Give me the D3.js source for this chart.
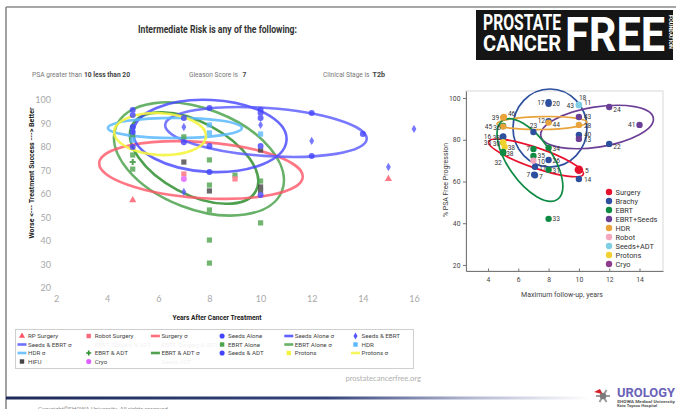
<!DOCTYPE html>
<html><head><meta charset="utf-8">
<script src="https://cdn.jsdelivr.net/npm/d3@7"></script>
<style>body{margin:0;background:#fff} svg{display:block}</style>
</head><body>
<svg id="c" width="676" height="409"></svg>
<script>
// ---------------- DATA (main chart) ----------------
const mainXTicks = [2,4,6,8,10,12,14,16];
const mainYTicks = [20,30,40,50,60,70,80,90,100];
const rpSurgery = [[5,57.4],[15,66.4]];
const robotSurgery = [[7,68.5],[9,66.4]];
const seedsAlone = [[5,95.7],[5,93.6],[5,86.4],[5,80],[7,92.3],[7,82],[8,96.6],[8,80.4],[10,95.7],[10,92.3],[10,80.4],[12,94.5],[12,76.2],[14,85.5],[10,59.6]];
const seedsEbrt = [[7,88.5],[10,89.4],[12,82.6],[15,71.5],[16,87.7],[7,60.9]];
const seedsAdt = [[5,88.5],[8,69.4],[10,94.5]];
const hdr = [[5,83],[8,89.4],[8,86],[10,85.5],[5,88]];
const ebrtAlone = [[5,85],[5,70.6],[7,84.3],[8,74.5],[8,63.8],[8,53.2],[8,40.4],[8,30.6],[9,68],[10,65.5],[10,47.7],[5,76.6]];
const ebrtAdt = [[5,73.6],[8,69.4]];
const hifu = [[7,73.6],[8,61.3],[10,78.7],[10,63],[10,61.3]];
const cryo = [[7,66.4]];
const protons = [];
// sigma ellipses: [centerX, centerY, sigmaX (years), sigmaY (%), tilt deg]
const surgerySigma = [7.67,70.2,3.99,11.9,4];
const hdrSigma = [6.65,88.1,2.62,4.3,0];
const protonsSigma = [6.07,85.5,1.8,8.9,3];
const seedsAloneSigma = [8.02,84.7,3.0,15.3,3];
const seedsEbrtSigma = [10.21,86.4,3.95,10.2,4];
const ebrtAloneSigma = [7.59,74.9,3.48,21.3,21];
const ebrtAdtSigma = [7.4,75.3,2.74,15.3,28];
const legendNames = ["RP Surgery","Robot Surgery","Surgery σ","Seeds Alone","Seeds Alone σ","Seeds & EBRT",
  "Seeds & EBRT σ","EBRT, Surgery & ADT","EBRT, Surgery & ADT σ","EBRT Alone","EBRT Alone σ","HDR",
  "HDR σ","EBRT & ADT","EBRT & ADT σ","Seeds & ADT","Protons","Protons σ",
  "HIFU","Cryo","Seeds ADT"];

// ---------------- DATA (inset chart) ----------------
const insetXTicks = [4,6,8,10,12,14];
const insetYTicks = [20,40,60,80,100];
const insetGroups = ["Surgery","Brachy","EBRT","EBRT+Seeds","HDR","Robot","Seeds+ADT","Protons","Cryo"];
// [label, group, years, % PSA free]
const insetPoints = [
 ["17","Brachy",8,98.0],["20","Brachy",8,97.2],
 ["18","Seeds+ADT",10,96.8],["11","Seeds+ADT",10,96.6],["43","Seeds+ADT",10,96.6],
 ["24","EBRT+Seeds",12,95.7],
 ["39","HDR",5,90.6],["46","HDR",5.05,90.9],
 ["43","EBRT+Seeds",10,90.9],
 ["12","Brachy",8,88.9],["44","HDR",8,88.2],
 ["28","HDR",10,87.1],
 ["45","EBRT",5,86.6],["36","HDR",5,86.3],
 ["23","Brachy",7,83.7],
 ["41","EBRT+Seeds",14,87.1],
 ["16","Brachy",5,81.6],["38","Brachy",5,81.3],
 ["40","Brachy",10,82.3],["13","EBRT+Seeds",10,80.4],
 ["35","Protons",5,78.8],["30","Protons",5,78.5],["38","Protons",5.1,76.6],
 ["22","Brachy",12,78.0],
 ["34","EBRT",8,76.1],["7","EBRT",7,75.6],
 ["38","EBRT",5,74.2],["32","EBRT",5,73.6],
 ["35","EBRT",7,72.2],["10","Robot",7,69.9],["26","Brachy",8,70.3],
 ["17","Brachy",7.1,67.0],["31","EBRT",8,65.6],["5","Surgery",10,65.6],
 ["7","Brachy",7.05,63.3],["7","Brachy",7.1,63.0],["14","Brachy",10,61.2],
 ["33","EBRT",8,42.1]
];
// [group, centerX, centerY, sigmaX (years), sigmaY (%), tilt deg]
const insetEllipses = [
 ["Brachy",8.09,85.6,2.44,18.7,0],
 ["EBRT+Seeds",11.2,86.1,3.76,9.6,-9],
 ["HDR",7.56,88.0,2.97,3.1,-1],
 ["Surgery",7.17,71.3,3.3,4.8,19],
 ["EBRT",6.77,70.3,3.17,10.5,55]
];

// ---------------- LAYOUT / STYLE ----------------
const svg = d3.select("#c");
const F = "Roboto, 'Open Sans', sans-serif";
const A = "Lato, 'Open Sans', sans-serif";

// slide frame
svg.append("line").attr("x1",6).attr("y1",7).attr("x2",676).attr("y2",7).attr("stroke","#8a8a8a").attr("stroke-width",1.6);
svg.append("line").attr("x1",6).attr("y1",7).attr("x2",6).attr("y2",409).attr("stroke","#8a8a8a").attr("stroke-width",1.6);

// titles
svg.append("text").attr("x",138).attr("y",32.5).attr("font-family",F).attr("font-weight","bold")
  .attr("font-size",10).attr("fill","#333").attr("textLength",159).attr("lengthAdjust","spacingAndGlyphs")
  .text("Intermediate Risk is any of the following:");
function sub(x1, len1, x2, len2, a, b){
  svg.append("text").attr("x",x1).attr("y",76.5).attr("font-family",F).attr("font-size",7.6)
    .attr("fill","#777").attr("textLength",len1).attr("lengthAdjust","spacingAndGlyphs").text(a);
  svg.append("text").attr("x",x2).attr("y",76.5).attr("font-family",F).attr("font-size",7.6)
    .attr("font-weight","bold").attr("fill","#444").attr("textLength",len2).attr("lengthAdjust","spacingAndGlyphs").text(b);
}
sub(32,50,84,46,"PSA greater than","10 less than 20");
sub(189,49,242.5,3.8,"Gleason Score is","7");
sub(323,46.5,372.5,12.5,"Clinical Stage is","T2b");

// logo
const lg = svg.append("g");
lg.append("rect").attr("x",476).attr("y",10).attr("width",197).attr("height",50).attr("fill","#151515");
lg.append("text").attr("x",483).attr("y",29.5).attr("font-family",F).attr("font-weight","bold").attr("font-size",22.5)
  .attr("fill","#fff").attr("textLength",78).attr("lengthAdjust","spacingAndGlyphs").text("PROSTATE");
lg.append("text").attr("x",483).attr("y",50.5).attr("font-family",F).attr("font-weight","bold").attr("font-size",22.5)
  .attr("fill","#fff").attr("textLength",78).attr("lengthAdjust","spacingAndGlyphs").text("CANCER");
lg.append("text").attr("x",565).attr("y",50.5).attr("font-family",F).attr("font-weight","bold").attr("font-size",48)
  .attr("fill","#fff").attr("textLength",100).attr("lengthAdjust","spacingAndGlyphs").text("FREE");
lg.append("text").attr("transform","translate(668.5,15) rotate(90)").attr("font-family",F).attr("font-weight","bold")
  .attr("font-size",4.5).attr("fill","#fff").attr("textLength",34).attr("lengthAdjust","spacingAndGlyphs").text("FOUNDATION");

// ---------------- MAIN CHART ----------------
const x = d3.scaleLinear().domain([2,16]).range([56,414]);
const y = d3.scaleLinear().domain([20,100]).range([288,100]);

const gx = svg.append("g").attr("transform","translate(0,293)")
  .call(d3.axisBottom(x).tickValues(mainXTicks).tickSize(0).tickPadding(3));
const gy = svg.append("g").attr("transform","translate(54,0)")
  .call(d3.axisLeft(y).tickValues(mainYTicks).tickSize(0).tickPadding(3));
[gx,gy].forEach(g=>{ g.select(".domain").remove();
  g.selectAll("text").attr("font-family",A).attr("font-size",9).attr("fill","#a8a8a8"); });

svg.append("text").attr("x",217).attr("y",319.5).attr("text-anchor","middle").attr("font-family",F)
  .attr("font-weight","bold").attr("font-size",7).attr("fill","#222").attr("textLength",89)
  .attr("lengthAdjust","spacingAndGlyphs").text("Years After Cancer Treatment");
svg.append("text").attr("transform","translate(34,173) rotate(-90)").attr("text-anchor","middle")
  .attr("font-family",F).attr("font-weight","bold").attr("font-size",6.8).attr("fill","#222")
  .attr("textLength",131).attr("lengthAdjust","spacingAndGlyphs").text("Worse <--- Treatment Success ---> Better");

const C = {red:"#ff5566", redSq:"#ff6b7b", blue:"#4444ff", blue2:"#5757ff", green:"#4ea34e", dgreen:"#2f8f2f",
  lblue:"#5ab8ff", yellow:"#f4f440", hifu:"#454545", cryo:"#e060ff"};

function drawEllipse(g, e, sx, sy, color, w, op){
  const cx = sx(e[0]), cy = sy(e[1]);
  const rx = sx(e[0]+e[2]) - cx, ry = sy(e[1]) - sy(e[1]+e[3]);
  g.append("ellipse").attr("cx",cx).attr("cy",cy).attr("rx",rx).attr("ry",ry)
   .attr("transform",`rotate(${e[4]},${cx},${cy})`)
   .attr("fill","none").attr("stroke",color).attr("stroke-width",w).attr("opacity",op);
}
const eg = svg.append("g");
drawEllipse(eg, ebrtAloneSigma, x, y, C.green, 2.6, 0.85);
drawEllipse(eg, ebrtAdtSigma, x, y, C.dgreen, 2.6, 0.85);
drawEllipse(eg, surgerySigma, x, y, C.red, 2.6, 0.8);
drawEllipse(eg, seedsAloneSigma, x, y, C.blue, 2.6, 0.8);
drawEllipse(eg, seedsEbrtSigma, x, y, C.blue2, 2.6, 0.8);
drawEllipse(eg, hdrSigma, x, y, C.lblue, 2.6, 0.85);
drawEllipse(eg, protonsSigma, x, y, C.yellow, 2.6, 0.9);

const pg = svg.append("g");
function marker(g, shape, px, py, color, s){
  s = s || 1;
  if(shape==="circ") g.append("circle").attr("cx",px).attr("cy",py).attr("r",3*s).attr("fill",color);
  else if(shape==="sq") g.append("rect").attr("x",px-2.6*s).attr("y",py-2.6*s).attr("width",5.2*s).attr("height",5.2*s).attr("fill",color);
  else if(shape==="tri") g.append("path").attr("d",d3.symbol(d3.symbolTriangle, 22*s*s)()).attr("transform",`translate(${px},${py})`).attr("fill",color);
  else if(shape==="diam") g.append("path").attr("d",d3.symbol(d3.symbolDiamond, 20*s*s)()).attr("transform",`translate(${px},${py})`).attr("fill",color);
  else if(shape==="cross") g.append("path").attr("d",d3.symbol(d3.symbolCross, 20*s*s)()).attr("transform",`translate(${px},${py})`).attr("fill",color);
}
function series(data, shape, color){
  data.forEach(d=>marker(pg, shape, x(d[0]), y(d[1]), color));
}
series(ebrtAlone,"sq",C.green);
series(ebrtAdt,"cross",C.dgreen);
series(hdr,"sq",C.lblue);
series(hifu,"sq",C.hifu);
series(seedsAlone,"circ",C.blue);
series(seedsAdt,"circ",C.blue);
series(seedsEbrt,"diam",C.blue2);
series(robotSurgery,"sq",C.redSq);
series(rpSurgery,"tri",C.red);
series(cryo,"circ",C.cryo);
series(protons,"sq",C.yellow);
pg.attr("opacity",0.8);

// legend
svg.append("rect").attr("x",15.5).attr("y",329.5).attr("width",398).attr("height",39)
  .attr("fill","#fff").attr("stroke","#cfcfcf").attr("stroke-width",1);
const legendStyles = [
 ["tri",C.red],["sq",C.redSq],["line",C.red],["circ",C.blue],["line",C.blue],["diam",C.blue2],
 ["line",C.blue2],["hid"],["hid"],["sq",C.green],["line",C.green],["sq",C.lblue],
 ["line",C.lblue],["cross",C.dgreen],["line",C.dgreen],["circ",C.blue],["sq",C.yellow],["line",C.yellow],
 ["sq",C.hifu],["circ",C.cryo],["hid"]
];
const lgG = svg.append("g");
legendNames.forEach((n,i)=>{
  const col = i%6, row = Math.floor(i/6);
  const mx = 22 + col*66.7, my = 336 + row*8.5;
  const st = legendStyles[i];
  if(st[0]==="line") lgG.append("rect").attr("x",mx-4.5).attr("y",my-1.3).attr("width",9).attr("height",2.6).attr("fill",st[1]).attr("opacity",0.85);
  else if(st[0]!=="hid") marker(lgG, st[0], mx, my, st[1], 0.85);
  lgG.append("text").attr("x",mx+6).attr("y",my+2.2).attr("font-family",F).attr("font-size",6.2)
    .attr("fill", st[0]==="hid" ? "#f2f2f2" : "#444").text(n);
});
svg.append("text").attr("x",421).attr("y",380.5).attr("text-anchor","end").attr("font-family",A)
  .attr("font-size",7.6).attr("fill","#b0b0b0").text("prostatecancerfree.org");

// ---------------- INSET CHART ----------------
const xi = d3.scaleLinear().domain([2.55,15.55]).range([466,663]);
const yi = d3.scaleLinear().domain([17.1,103.35]).range([271,91]);
const IC = {"Surgery":"#e8112d","Brachy":"#2d4f9e","EBRT":"#0e8a43","EBRT+Seeds":"#6c3f97","HDR":"#e8a33b",
  "Robot":"#f4a7bf","Seeds+ADT":"#7ecfe4","Protons":"#f2d230","Cryo":"#8d3c8e"};
svg.append("rect").attr("x",466).attr("y",91).attr("width",197).attr("height",180)
  .attr("fill","#fff").attr("stroke","#d8d8d8").attr("stroke-width",1);
const gxi = svg.append("g").attr("transform","translate(0,271)")
  .call(d3.axisBottom(xi).tickValues(insetXTicks).tickSizeInner(-2.5).tickSizeOuter(0).tickPadding(6));
const gyi = svg.append("g").attr("transform","translate(466,0)")
  .call(d3.axisLeft(yi).tickValues(insetYTicks).tickSizeInner(3).tickSizeOuter(0).tickPadding(2.5));
[gxi,gyi].forEach(g=>{
  g.select(".domain").attr("stroke","#777");
  g.selectAll("line").attr("stroke","#777");
  g.selectAll("text").attr("font-family",F).attr("font-size",6.8).attr("fill","#444");
});
svg.append("text").attr("x",562).attr("y",296.5).attr("text-anchor","middle").attr("font-family",F)
  .attr("font-size",7.3).attr("fill","#444").attr("textLength",82).attr("lengthAdjust","spacingAndGlyphs")
  .text("Maximum follow-up, years");
svg.append("text").attr("transform","translate(448,180) rotate(-90)").attr("text-anchor","middle")
  .attr("font-family",F).attr("font-size",6.3).attr("fill","#444").attr("textLength",74)
  .attr("lengthAdjust","spacingAndGlyphs").text("% PSA Free Progression");

const ieg = svg.append("g");
insetEllipses.forEach(e=>drawEllipse(ieg, e.slice(1), xi, yi, IC[e[0]], 1.7, 1));

// label placement for inset points: [dx, dy, anchor]
const insetLabelPos = [
 [-4,2.5,"end"],[4,2.5,"start"],
 [0,-5,"start"],[5,0,"start"],[-5,2.5,"end"],
 [4,5,"start"],
 [-4,2.5,"end"],[4,-1,"start"],
 [5,2.5,"start"],
 [-3.5,2,"end"],[4,4,"start"],
 [5,3,"start"],
 [-11,3,"end"],[-2.5,3,"end"],
 [0,-4,"middle"],
 [-4,2.5,"end"],
 [-12,2.5,"end"],[-3,3,"end"],
 [5,2.5,"start"],[5,3,"start"],
 [-12,2.5,"end"],[-3,3,"end"],[3,3.5,"start"],
 [4,5.5,"start"],
 [4,3,"start"],[-3.5,2.5,"end"],
 [3,4.5,"start"],[-5,12,"middle"],
 [4,2,"start"],[4,3,"start"],[4,3,"start"],
 [4,3.5,"start"],[4,3.5,"start"],[6,3,"start"],
 [-4,2.5,"end"],[4,4,"start"],[5,3,"start"],
 [4,2.5,"start"]
];
const ipg = svg.append("g");
insetPoints.forEach(p=>{
  ipg.append("circle").attr("cx",xi(p[2])).attr("cy",yi(p[3])).attr("r", p[1]==="Surgery"?4.3:3.2).attr("fill",IC[p[1]]);
});
const ilg = svg.append("g");
insetPoints.forEach((p,i)=>{
  const lp = insetLabelPos[i];
  ilg.append("text").attr("x",xi(p[2])+lp[0]).attr("y",yi(p[3])+lp[1]).attr("text-anchor",lp[2])
    .attr("font-family",F).attr("font-size",6.6).attr("fill","#333").text(p[0]);
});
// inset legend
insetGroups.forEach((gname,i)=>{
  const ly = 192 + i*9;
  svg.append("circle").attr("cx",609).attr("cy",ly).attr("r",3.2).attr("fill",IC[gname]);
  svg.append("text").attr("x",615.5).attr("y",ly+2.6).attr("font-family",F).attr("font-size",7.4)
    .attr("fill","#333").text(gname);
});

// ---------------- FOOTER ----------------
const grad = svg.append("defs").append("linearGradient").attr("id","bar").attr("x1","0").attr("x2","1");
grad.append("stop").attr("offset","0").attr("stop-color","#1d2b5a");
grad.append("stop").attr("offset","0.55").attr("stop-color","#34437a");
grad.append("stop").attr("offset","0.8").attr("stop-color","#b5b9d2");
grad.append("stop").attr("offset","1").attr("stop-color","#ffffff");
svg.append("rect").attr("x",6).attr("y",396.5).attr("width",584).attr("height",3).attr("fill","url(#bar)");
svg.append("text").attr("x",38).attr("y",411).attr("font-family",F).attr("font-size",6).attr("fill","#888")
  .text("Copyright©SHOWA University. All rights reserved.");
// urology mark
const um = svg.append("g").attr("transform","translate(603,396)");
for(let k=0;k<6;k++){
  um.append("line").attr("x1",0).attr("y1",0).attr("x2",7*Math.cos(k*Math.PI/3)).attr("y2",7*Math.sin(k*Math.PI/3))
    .attr("stroke","#9a9a9a").attr("stroke-width",2);
}
um.append("circle").attr("r",3.2).attr("fill","#7a7a7a");
svg.append("path").attr("d","M594,392 l6,-3 l2,5 z").attr("fill","#d8202a");
svg.append("text").attr("x",617).attr("y",396.5).attr("font-family",F).attr("font-weight","bold").attr("font-size",12)
  .attr("fill","#6a62b8").attr("textLength",58).attr("lengthAdjust","spacingAndGlyphs").text("UROLOGY");
svg.append("text").attr("x",617).attr("y",403).attr("font-family",F).attr("font-weight","bold").attr("font-size",3.6)
  .attr("fill","#555").attr("textLength",58).attr("lengthAdjust","spacingAndGlyphs").text("SHOWA Medical University");
svg.append("text").attr("x",617).attr("y",407).attr("font-family",F).attr("font-weight","bold").attr("font-size",3.6)
  .attr("fill","#555").attr("textLength",40).attr("lengthAdjust","spacingAndGlyphs").text("Koto Toyosu Hospital");
</script>
</body></html>
